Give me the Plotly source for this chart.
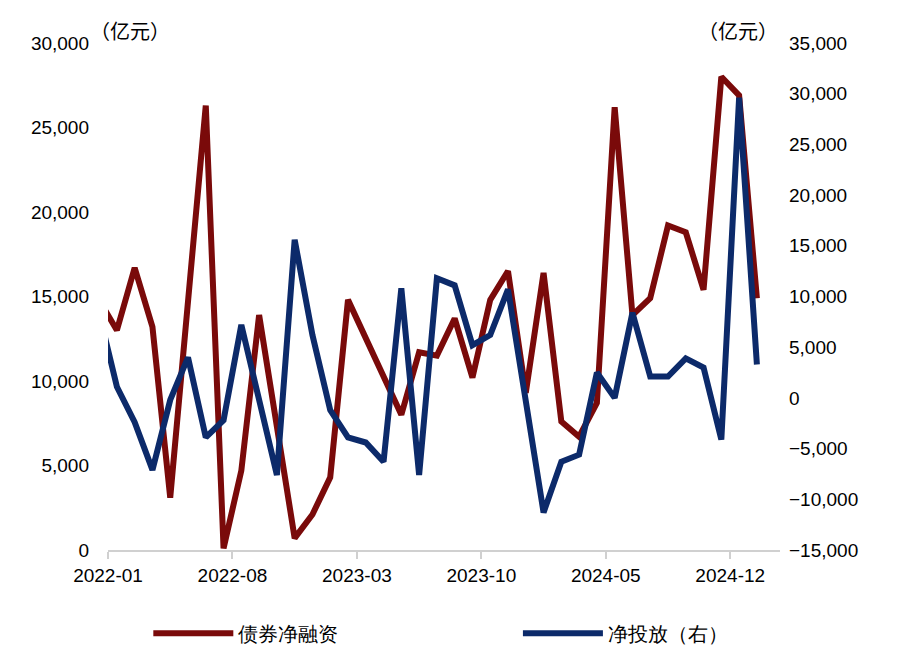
import plotly.graph_objects as go

# month index k is drawn at k + 0.5; index -1 (2021-12) is clipped by the axis range
months = list(range(-1, 37))
bond_net = [14.8, 13.0, 16.7, 13.2, 3.1, 14.8, 26.3, 0.1, 4.7, 13.9, 7.3, 0.7, 2.1, 4.3,
            14.8, 12.5, 10.2, 8.0, 11.7, 11.5, 13.7, 10.2, 14.8, 16.5, 9.3, 16.4, 7.6, 6.7,
            8.7, 26.2, 13.9, 14.9, 19.2, 18.8, 15.4, 28.0, 26.9, 14.9]
net_injection = [8.4, 1.1, -2.4, -7.1, -0.2, 4.0, -3.9, -2.2, 7.2, -0.2, -7.6, 15.6, 6.2, -1.2,
                 -3.9, -4.4, -6.3, 10.8, -7.6, 11.8, 11.1, 5.2, 6.2, 10.7, 0.1, -11.3, -6.3, -5.6,
                 2.5, 0.0, 8.4, 2.1, 2.1, 3.9, 3.0, -4.1, 29.6, 3.3]
tick_pos = [0, 7, 14, 21, 28, 35]
tick_text = ["2022-01", "2022-08", "2023-03", "2023-10", "2024-05", "2024-12"]

x = [m + 0.5 for m in months]
red = "#7a0a0a"
blue = "#0c2a6a"

fig = go.Figure()
fig.add_trace(go.Scatter(x=x, y=[v * 1000 for v in bond_net], name="债券净融资",
                         mode="lines", line=dict(color=red, width=6), legend="legend"))
fig.add_trace(go.Scatter(x=x, y=[v * 1000 for v in net_injection], name="净投放（右）",
                         mode="lines", line=dict(color=blue, width=6), yaxis="y2",
                         legend="legend2"))

leg = dict(orientation="h", y=-0.164, xanchor="left", yanchor="middle",
           itemwidth=80, font=dict(size=20), bgcolor="rgba(0,0,0,0)")

fig.update_layout(
    width=905, height=662,
    margin=dict(l=100, r=133, t=35, b=120),
    plot_bgcolor="white", paper_bgcolor="white",
    font=dict(family="Liberation Sans, Arial", size=19, color="#000"),
    showlegend=True,
    legend=dict(leg, x=0.06),
    legend2=dict(leg, x=0.61),
    xaxis=dict(range=[0, 37.8], tickvals=tick_pos, ticktext=tick_text, automargin=False,
               showgrid=False, zeroline=False, showline=True, linecolor="#d0d0d0",
               linewidth=2, ticks="outside", tickcolor="#d0d0d0", ticklen=7,
               tickwidth=2),
    yaxis=dict(range=[0, 30000], dtick=5000, tickformat=",", showgrid=False,
               automargin=False, zeroline=False, showline=False, ticks="",
               ticklabelstandoff=18),
    yaxis2=dict(range=[-15000, 35000], dtick=5000, tickformat=",", overlaying="y",
                side="right", showgrid=False, zeroline=False, showline=False,
                automargin=False, ticks="", ticklabelstandoff=8),
)
fig.add_annotation(text="（亿元）", xref="paper", yref="paper", x=-0.03, y=1.024,
                   xanchor="left", yanchor="middle", showarrow=False,
                   font=dict(size=20, family="Noto Sans CJK SC"))
fig.add_annotation(text="（亿元）", xref="paper", yref="paper", x=1.0, y=1.024,
                   xanchor="right", yanchor="middle", showarrow=False,
                   font=dict(size=20, family="Noto Sans CJK SC"))

fig.write_html("out.html")
